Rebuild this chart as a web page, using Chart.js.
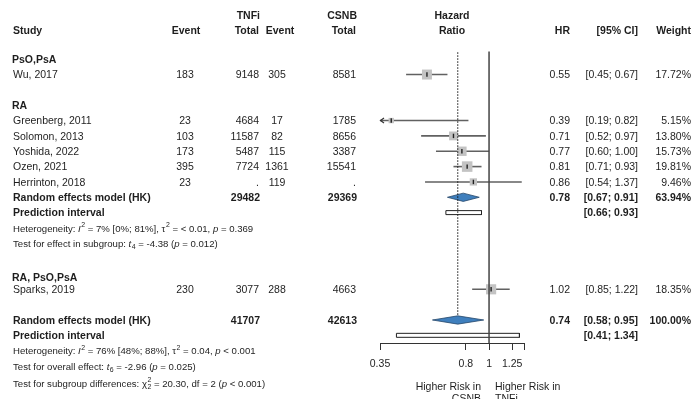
<!DOCTYPE html>
<html>
<head>
<meta charset="utf-8">
<script src="https://cdn.jsdelivr.net/npm/chart.js@4.4.0/dist/chart.umd.min.js"></script>
<style>
  html, body { margin:0; padding:0; background:#fff; }
  #wrap { width:691px; height:399px; }
</style>
</head>
<body>
<div id="wrap"><canvas id="chart" width="691" height="399"></canvas></div>
<script>
'use strict';

// study rows
let studyNames=['Wu, 2017','Greenberg, 2011','Solomon, 2013','Yoshida, 2022','Ozen, 2021','Herrinton, 2018','Sparks, 2019']
let studyRows=[0,3,4,5,6,7,14]
let tnfiEvents=['183','23','103','173','395','23','230']
let tnfiTotals=['9148','4684','11587','5487','7724','.','3077']
let csnbEvents=['305','17','82','115','1361','119','288']
let csnbTotals=['8581','1785','8656','3387','15541','.','4663']
let hr=[0.55,0.39,0.71,0.77,0.81,0.86,1.02]
let ciLow=[0.45,0.19,0.52,0.60,0.71,0.54,0.85]
let ciHigh=[0.67,0.82,0.97,1.00,0.93,1.37,1.22]
let weights=[17.72,5.15,13.80,15.73,19.81,9.46,18.35]

// subgroup headers
let groupNames=['PsO,PsA','RA','RA, PsO,PsA']
let groupRows=[-1,2,13.2]

// pooled (random effects) rows
let pooledRows=[8,16]
let pooledTnfiTotals=['29482','41707']
let pooledCsnbTotals=['29369','42613']
let pooledHR=[0.78,0.74]
let pooledLow=[0.67,0.58]
let pooledHigh=[0.91,0.95]
let pooledWeights=[63.94,100.00]

// prediction intervals
let predRows=[9,17]
let predLow=[0.66,0.41]
let predHigh=[0.93,1.34]

// x axis
let xTicks=[0.35,0.8,1,1.25,1.4]
let xTickLabels=['0.35','0.8','1','1.25','']

const FONT="'Liberation Sans', Arial, sans-serif"
const INK='#1e1e1e'
const dh=0.27   // diamond half height (rows)
const ph=0.13   // prediction box half height (rows)
const TY=1      // text sits a touch lower than the marks

let datasets=[]

// reference lines
datasets.push({type:'line',data:[{x:1,y:-1.5},{x:1,y:17.5}],borderColor:'#444',borderWidth:1.5,pointRadius:0,order:1})
datasets.push({type:'line',data:[{x:pooledHR[1],y:-1.45},{x:pooledHR[1],y:pooledRows[1]-dh}],borderColor:'#111',borderWidth:1,borderDash:[1.5,1.5],pointRadius:0,order:2})

// confidence interval lines
for(let i=0;i<hr.length;i++)
{
    datasets.push({type:'line',data:[{x:ciLow[i],y:studyRows[i]},{x:ciHigh[i],y:studyRows[i]}],borderColor:'#616161',borderWidth:1.6,pointRadius:0,order:8})
}

// weighted squares
datasets.push({
    type:'scatter',
    data:hr.map((v,i)=>({x:v,y:studyRows[i]})),
    pointStyle:'rect',
    pointRadius:weights.map(w=>Math.sqrt(w)*2.37/Math.SQRT2),
    pointBackgroundColor:'#c3c3c3',
    pointBorderWidth:0,
    order:6
})

// point estimate ticks
datasets.push({
    type:'scatter',
    data:hr.map((v,i)=>({x:v,y:studyRows[i]})),
    pointStyle:'line',
    pointRotation:90,
    pointRadius:2.2,
    pointBorderColor:'#222',
    pointBorderWidth:1.4,
    order:5
})

// prediction interval boxes
for(let i=0;i<predRows.length;i++)
{
    let r=predRows[i]
    datasets.push({type:'line',data:[{x:predLow[i],y:r-ph},{x:predHigh[i],y:r-ph},{x:predHigh[i],y:r+ph},{x:predLow[i],y:r+ph},{x:predLow[i],y:r-ph}],
        fill:'shape',backgroundColor:'#fff',borderColor:'#222',borderWidth:1,pointRadius:0,order:4})
}

// diamonds
for(let i=0;i<pooledRows.length;i++)
{
    let r=pooledRows[i]
    datasets.push({type:'line',data:[{x:pooledLow[i],y:r},{x:pooledHR[i],y:r-dh},{x:pooledHigh[i],y:r},{x:pooledHR[i],y:r+dh},{x:pooledLow[i],y:r}],
        fill:'shape',backgroundColor:'#3f7fbd',borderColor:'#27486a',borderWidth:0.8,pointRadius:0,order:3})
}

function rich(ctx,x,y,parts,size)
{
    let cx=x
    for(let p of parts)
    {
        let t=p[0], s=p[1]
        if(s==='sup'||s==='sub'||s==='ss')
        {
            ctx.font=`${size*0.72}px ${FONT}`
            let w=ctx.measureText(t).width
            if(s==='sup'||s==='ss') ctx.fillText(t,cx+0.5,y-size*0.42)
            if(s==='sub'||s==='ss') ctx.fillText(t,cx+0.5,y+size*0.3)
            cx+=w+0.5
        }
        else
        {
            ctx.font=(s==='i'?'italic ':'')+`${size}px ${FONT}`
            ctx.fillText(t,cx,y)
            cx+=ctx.measureText(t).width
        }
    }
}

let footnotes=[
    [10,[['Heterogeneity: ',''],['I','i'],['2','sup'],[' = 7% [0%; 81%], ',''],['\u03c4',''],['2','sup'],[' = < 0.01, ',''],['p','i'],[' = 0.369','']]],
    [11,[['Test for effect in subgroup: ',''],['t','i'],['4','sub'],[' = -4.38 (',''],['p','i'],[' = 0.012)','']]],
    [18,[['Heterogeneity: ',''],['I','i'],['2','sup'],[' = 76% [48%; 88%], ',''],['\u03c4',''],['2','sup'],[' = 0.04, ',''],['p','i'],[' < 0.001','']]],
    [19,[['Test for overall effect: ',''],['t','i'],['6','sub'],[' = -2.96 (',''],['p','i'],[' = 0.025)','']]],
    [20.1,[['Test for subgroup differences: ',''],['\u03c7',''],['2','ss'],[' = 20.30, df = 2 (',''],['p','i'],[' < 0.001)','']]]
]

const tablePlugin={
    id:'table',
    afterDraw(chart)
    {
        const ctx=chart.ctx
        const xs=chart.scales.x, ys=chart.scales.y
        ctx.save()
        ctx.fillStyle=INK
        ctx.textBaseline='middle'
        function txt(s,px,r,align,bold,size)
        {
            ctx.font=(bold?'bold ':'')+`${size||10.5}px ${FONT}`
            ctx.textAlign=align||'left'
            ctx.fillText(s,px,ys.getPixelForValue(r)+TY)
        }
        // headers
        txt('TNFi',260,-3.9,'right',true)
        txt('CSNB',357,-3.9,'right',true)
        txt('Hazard',452,-3.9,'center',true)
        txt('Study',13,-2.87,'left',true)
        txt('Event',186,-2.87,'center',true)
        txt('Total',259,-2.87,'right',true)
        txt('Event',280,-2.87,'center',true)
        txt('Total',356,-2.87,'right',true)
        txt('Ratio',452,-2.87,'center',true)
        txt('HR',570,-2.87,'right',true)
        txt('[95% CI]',638,-2.87,'right',true)
        txt('Weight',691,-2.87,'right',true)

        for(let i=0;i<groupNames.length;i++) txt(groupNames[i],12,groupRows[i],'left',true)

        for(let i=0;i<studyNames.length;i++)
        {
            let r=studyRows[i]
            txt(studyNames[i],13,r)
            txt(tnfiEvents[i],185,r,'center')
            txt(tnfiTotals[i],259,r,'right')
            txt(csnbEvents[i],277,r,'center')
            txt(csnbTotals[i],356,r,'right')
            txt(hr[i].toFixed(2),570,r,'right')
            txt(`[${ciLow[i].toFixed(2)}; ${ciHigh[i].toFixed(2)}]`,638,r,'right')
            txt(weights[i].toFixed(2)+'%',691,r,'right')
        }
        for(let i=0;i<pooledRows.length;i++)
        {
            let r=pooledRows[i]
            txt('Random effects model (HK)',13,r,'left',true)
            txt(pooledTnfiTotals[i],260,r,'right',true)
            txt(pooledCsnbTotals[i],357,r,'right',true)
            txt(pooledHR[i].toFixed(2),570,r,'right',true)
            txt(`[${pooledLow[i].toFixed(2)}; ${pooledHigh[i].toFixed(2)}]`,638,r,'right',true)
            txt(pooledWeights[i].toFixed(2)+'%',691,r,'right',true)
        }
        for(let i=0;i<predRows.length;i++)
        {
            let r=predRows[i]
            txt('Prediction interval',13,r,'left',true)
            txt(`[${predLow[i].toFixed(2)}; ${predHigh[i].toFixed(2)}]`,638,r,'right',true)
        }

        ctx.textAlign='left'
        for(let f of footnotes) rich(ctx,13,ys.getPixelForValue(f[0])+TY,f[1],9.6)

        txt('Higher Risk in',481,20.3,'right')
        txt('CSNB',481,21.07,'right')
        txt('Higher Risk in',495,20.3,'left')
        txt('TNFi',495,21.07,'left')

        // arrows for intervals running off the axis
        ctx.strokeStyle='#333'
        ctx.lineWidth=1.2
        for(let i=0;i<hr.length;i++)
        {
            if(ciLow[i]<xs.min)
            {
                let px=xs.getPixelForValue(xs.min), py=ys.getPixelForValue(studyRows[i])
                ctx.beginPath()
                ctx.moveTo(px+4,py-2.5)
                ctx.lineTo(px+0.5,py)
                ctx.lineTo(px+4,py+2.5)
                ctx.stroke()
            }
        }
        ctx.restore()
    }
}

let ctx=document.getElementById('chart').getContext('2d')
let myChart=new Chart(ctx,{
    type:'scatter',
    data:{datasets:datasets},
    options:{
        responsive:false,
        animation:false,
        events:[],
        layout:{padding:{left:380,right:167,top:50,bottom:26}},
        plugins:{legend:{display:false},tooltip:{enabled:false}},
        scales:{
            x:{
                type:'logarithmic',
                min:0.35,
                max:1.4,
                position:'bottom',
                afterBuildTicks:s=>{ s.ticks=xTicks.map(v=>({value:v})) },
                afterFit:s=>{ s.height=30 },
                ticks:{autoSkip:false,maxRotation:0,padding:8,color:INK,font:{family:FONT,size:10.5},
                    callback:(v,i)=>xTickLabels[i]},
                grid:{drawOnChartArea:false,drawTicks:true,tickLength:7,color:'#333',lineWidth:1},
                border:{display:true,color:'#333',width:1}
            },
            y:{
                type:'linear',
                reverse:true,
                min:-1.6,
                max:17.5,
                display:false
            }
        }
    },
    plugins:[tablePlugin]
})
</script>
</body>
</html>
